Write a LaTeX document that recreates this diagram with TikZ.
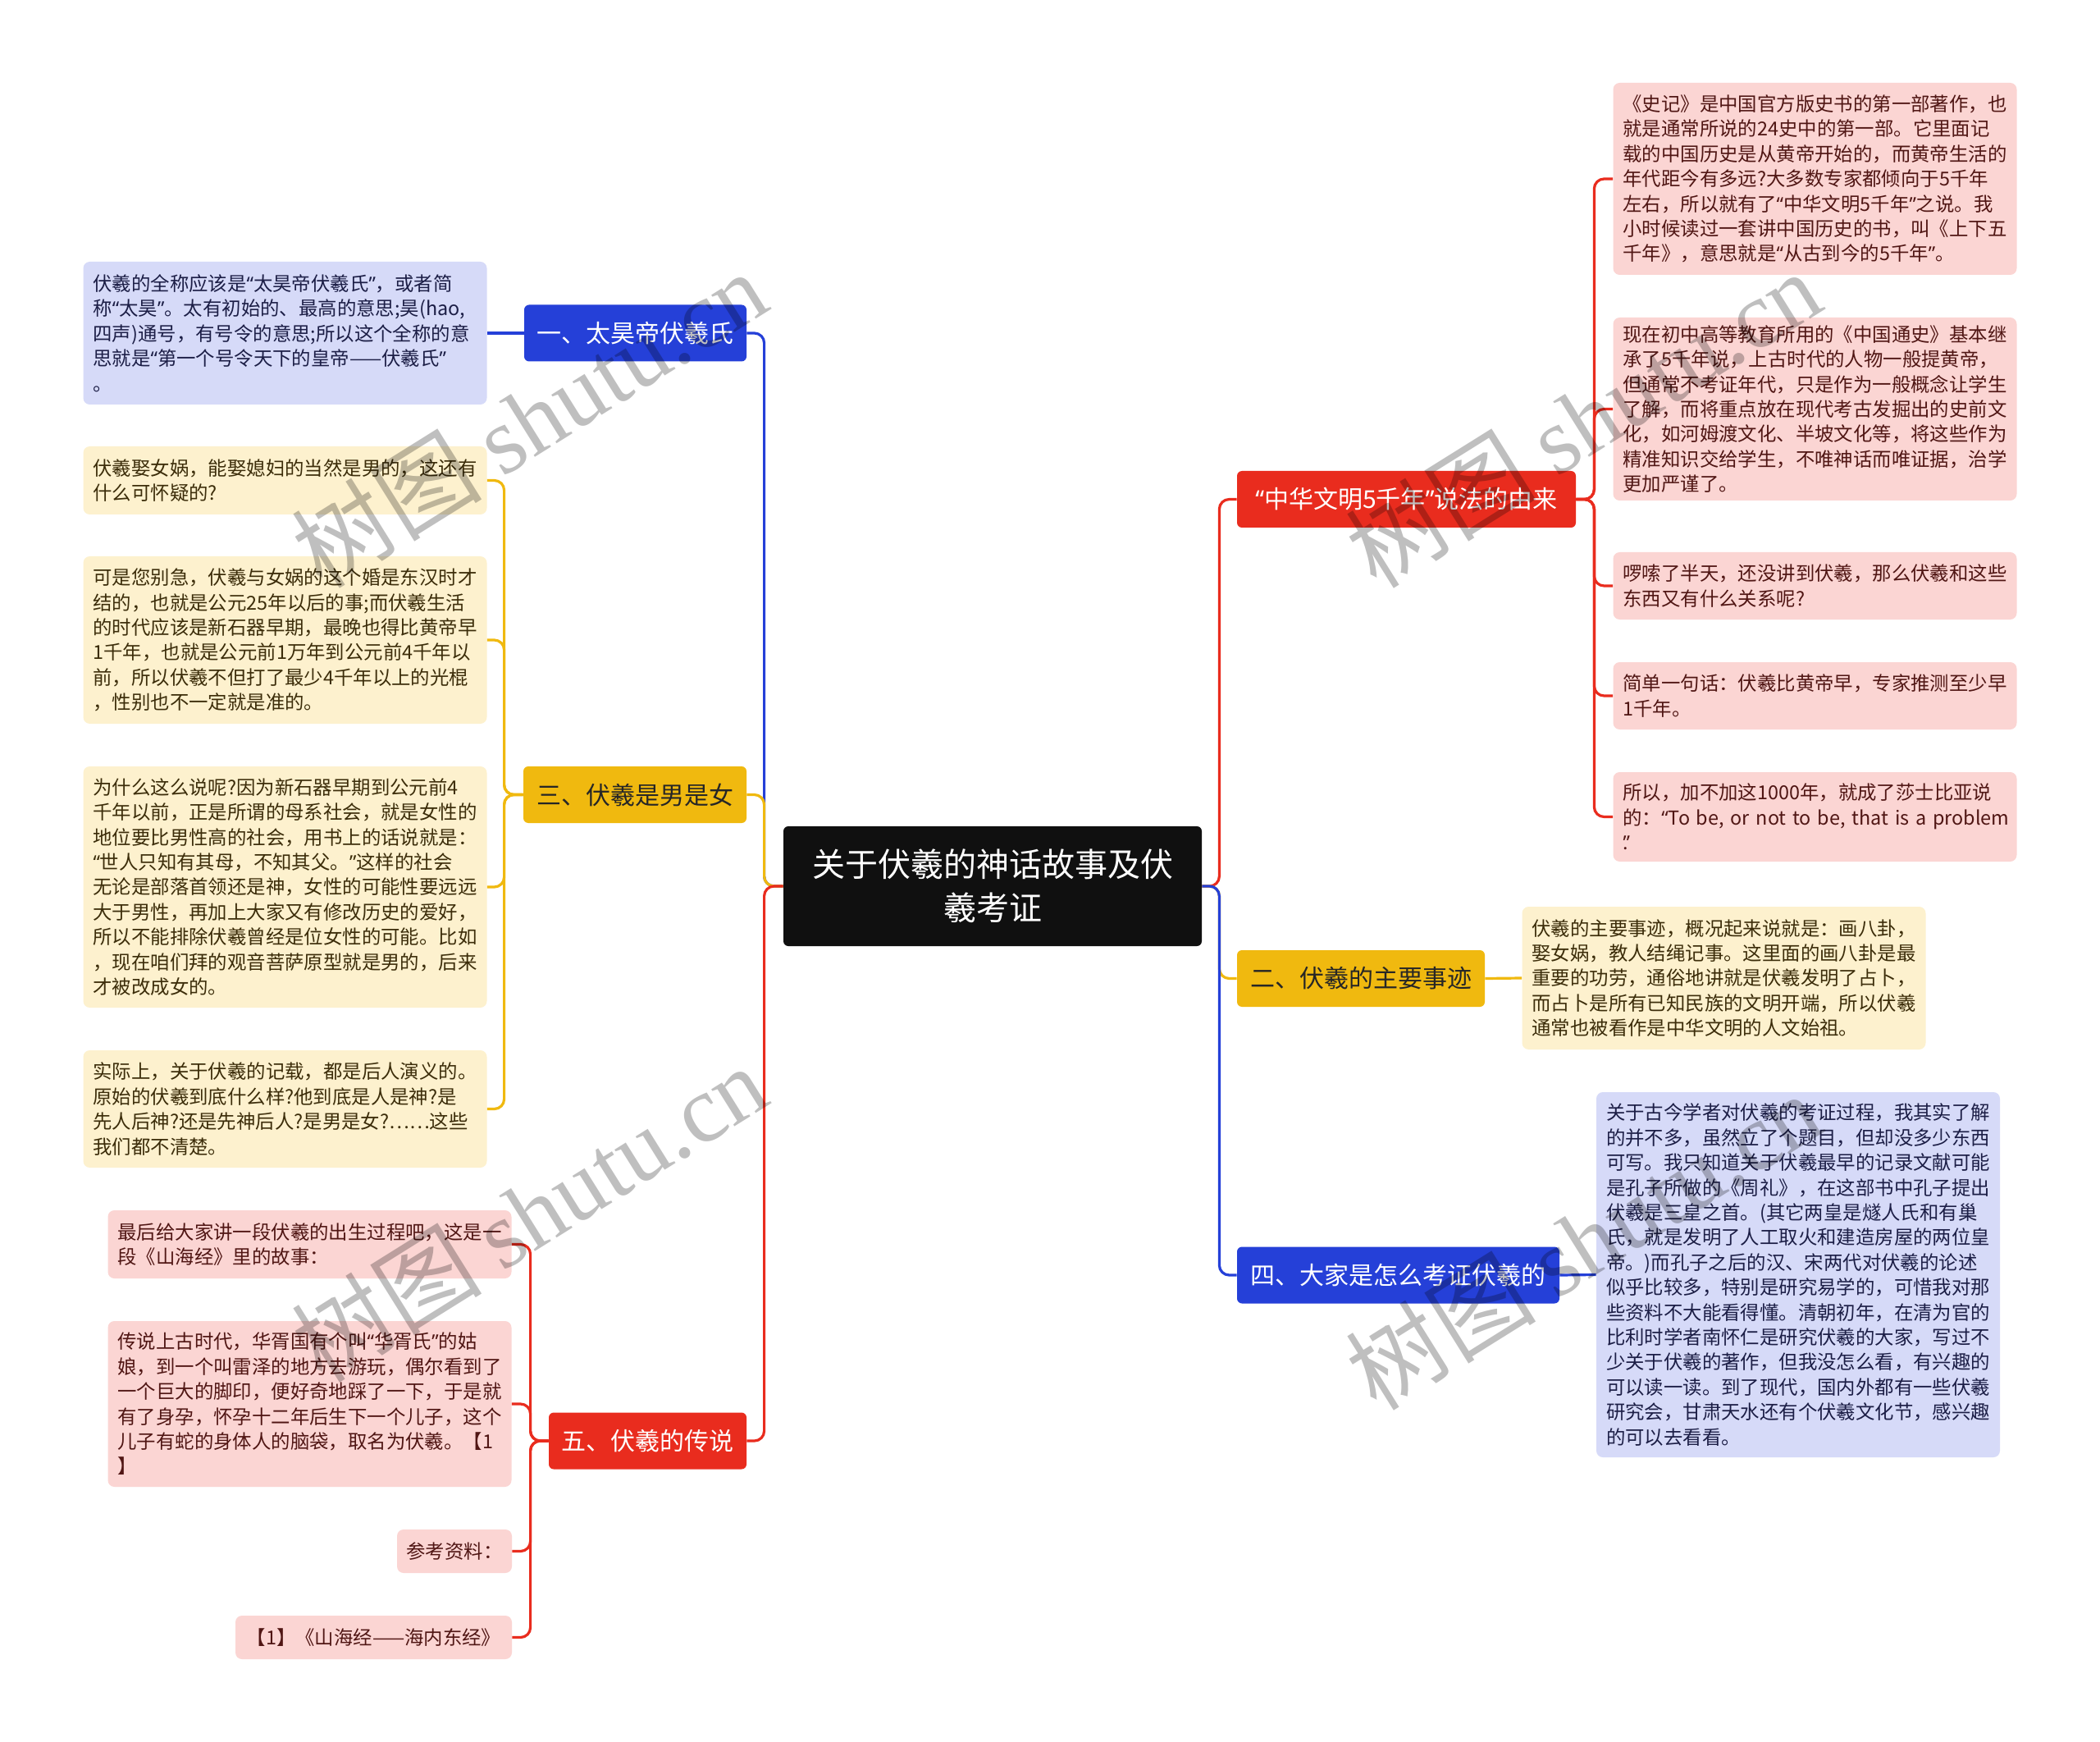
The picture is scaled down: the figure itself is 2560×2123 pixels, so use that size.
\documentclass[tikz,border=0pt]{standalone}
\usepackage{fontspec}
\setmainfont{Noto Sans CJK SC}
\newfontfamily\wmserif{Liberation Serif}
\newfontfamily\latinq{Noto Sans}
\newcommand\oqt{{\latinq “}}
\newcommand\cqt{{\latinq ”}}
\definecolor{cblue}{RGB}{37,64,216}
\definecolor{cred}{RGB}{233,44,30}
\definecolor{cyellow}{RGB}{240,185,15}
\definecolor{lavfill}{RGB}{214,218,248}
\definecolor{yelfill}{RGB}{253,241,206}
\definecolor{pinkfill}{RGB}{251,213,211}
\definecolor{lavtext}{RGB}{28,30,70}
\definecolor{yeltext}{RGB}{60,45,10}
\definecolor{pinktext}{RGB}{80,22,20}
\definecolor{coreblack}{RGB}{16,16,16}
\tikzset{
  leaf/.style={rounded corners=4pt, inner xsep=6pt, inner ysep=0pt, text width=234pt, align=left,
    font={\fontsize{11.7pt}{15.2pt}\selectfont}},
  leafshort/.style={rounded corners=4pt, inner sep=0pt, minimum height=26.5pt,
    font={\fontsize{11.7pt}{15.2pt}\selectfont}},
  lavleaf/.style={leaf, fill=lavfill, text=lavtext},
  yelleaf/.style={leaf, fill=yelfill, text=yeltext},
  pinkleaf/.style={leaf, fill=pinkfill, text=pinktext},
  branchbox/.style={rounded corners=3pt, inner sep=0pt, minimum height=34.5pt,
    font={\fontsize{15pt}{18pt}\selectfont}},
  bluebranch/.style={branchbox, fill=cblue, text=white},
  redbranch/.style={branchbox, fill=cred, text=white},
  yelbranch/.style={branchbox, fill=cyellow, text=black!85},
  link/.style={line width=1.6pt, rounded corners=6pt},
  watermark/.style={text=black, opacity=0.25, rotate=32, font={\fontsize{58pt}{62pt}\selectfont}}
}
\begin{document}
\begin{tikzpicture}[x=0.5pt,y=-0.5pt]
\useasboundingbox (0,0) rectangle (2560,2123);
\fill[white] (0,0) rectangle (2560,2123);

% central node
\node[fill=coreblack, text=white, rounded corners=3pt, minimum width=255pt, minimum height=73pt,
  text width=240pt, align=center, inner sep=0pt, font={\fontsize{20pt}{26.3pt}\selectfont}]
  (c) at (1210,1080) {关于伏羲的神话故事及伏\\羲考证};

% branches
\node[bluebranch, minimum width=135.5pt] (b1) at (774.5,406) {一、太昊帝伏羲氏};
\node[yelbranch, minimum width=136pt] (b3) at (774,968.5) {三、伏羲是男是女};
\node[redbranch, minimum width=120.5pt] (b5) at (789.5,1756) {五、伏羲的传说};
\node[redbranch, minimum width=206.5pt] (r1) at (1714.5,608.5) {\oqt{}中华文明5千年\cqt{}说法的由来};
\node[yelbranch, minimum width=151pt] (r2) at (1659,1192.5) {二、伏羲的主要事迹};
\node[bluebranch, minimum width=196.5pt] (r4) at (1704.5,1554) {四、大家是怎么考证伏羲的};

% leaves of branch one
\node[lavleaf, minimum height=87pt] (l1) at (347.5,406) {伏羲的全称应该是\oqt{}太昊帝伏羲氏\cqt{}，或者简\\称\oqt{}太昊\cqt{}。太有初始的、最高的意思;昊(hao,\\四声)通号，有号令的意思;所以这个全称的意\\思就是\oqt{}第一个号令天下的皇帝——伏羲氏\cqt{}\\。};

% leaves of branch three
\node[yelleaf, minimum height=41.5pt] (y1) at (347.5,585.5) {伏羲娶女娲，能娶媳妇的当然是男的，这还有\\什么可怀疑的?};
\node[yelleaf, minimum height=102pt] (y2) at (347.5,780) {可是您别急，伏羲与女娲的这个婚是东汉时才\\结的，也就是公元25年以后的事;而伏羲生活\\的时代应该是新石器早期，最晚也得比黄帝早\\1千年，也就是公元前1万年到公元前4千年以\\前，所以伏羲不但打了最少4千年以上的光棍\\，性别也不一定就是准的。};
\node[yelleaf, minimum height=147pt] (y3) at (347.5,1081) {为什么这么说呢?因为新石器早期到公元前4\\千年以前，正是所谓的母系社会，就是女性的\\地位要比男性高的社会，用书上的话说就是：\\\oqt{}世人只知有其母，不知其父。\cqt{}这样的社会\\无论是部落首领还是神，女性的可能性要远远\\大于男性，再加上大家又有修改历史的爱好，\\所以不能排除伏羲曾经是位女性的可能。比如\\，现在咱们拜的观音菩萨原型就是男的，后来\\才被改成女的。};
\node[yelleaf, minimum height=71.5pt] (y4) at (347.5,1351.5) {实际上，关于伏羲的记载，都是后人演义的。\\原始的伏羲到底什么样?他到底是人是神?是\\先人后神?还是先神后人?是男是女?……这些\\我们都不清楚。};

% leaves of branch five
\node[pinkleaf, minimum height=41.5pt] (p1) at (377.5,1516.5) {最后给大家讲一段伏羲的出生过程吧，这是一\\段《山海经》里的故事：};
\node[pinkleaf, minimum height=101pt] (p2) at (377.5,1711) {传说上古时代，华胥国有个叫\oqt{}华胥氏\cqt{}的姑\\娘，到一个叫雷泽的地方去游玩，偶尔看到了\\一个巨大的脚印，便好奇地踩了一下，于是就\\有了身孕，怀孕十二年后生下一个儿子，这个\\儿子有蛇的身体人的脑袋，取名为伏羲。【1\\】};
\node[leafshort, fill=pinkfill, text=pinktext, minimum width=70pt] (p3) at (554,1890.5) {参考资料：};
\node[leafshort, fill=pinkfill, text=pinktext, minimum width=168.5pt] (p4) at (455.5,1995.5) {【1】《山海经——海内东经》};

% leaves of the red right branch
\node[pinkleaf, minimum height=117pt] (q1) at (2212.5,218) {《史记》是中国官方版史书的第一部著作，也\\就是通常所说的24史中的第一部。它里面记\\载的中国历史是从黄帝开始的，而黄帝生活的\\年代距今有多远?大多数专家都倾向于5千年\\左右，所以就有了\oqt{}中华文明5千年\cqt{}之说。我\\小时候读过一套讲中国历史的书，叫《上下五\\千年》，意思就是\oqt{}从古到今的5千年\cqt{}。};
\node[pinkleaf, minimum height=111.5pt] (q2) at (2212.5,498.5) {现在初中高等教育所用的《中国通史》基本继\\承了5千年说，上古时代的人物一般提黄帝，\\但通常不考证年代，只是作为一般概念让学生\\了解，而将重点放在现代考古发掘出的史前文\\化，如河姆渡文化、半坡文化等，将这些作为\\精准知识交给学生，不唯神话而唯证据，治学\\更加严谨了。};
\node[pinkleaf, minimum height=41pt] (q3) at (2212.5,714) {啰嗦了半天，还没讲到伏羲，那么伏羲和这些\\东西又有什么关系呢?};
\node[pinkleaf, minimum height=41pt] (q4) at (2212.5,848) {简单一句话：伏羲比黄帝早，专家推测至少早\\1千年。};
\node[pinkleaf, minimum height=54.5pt] (q5) at (2212.5,995.5) {所以，加不加这1000年，就成了莎士比亚说\\\mbox{的：\oqt{}To be, or not to be, that is a problem}\\\makebox[0pt][l]{\cqt{}}.};

% leaf of branch two
\node[yelleaf, minimum height=87pt] (g1) at (2101.5,1192) {伏羲的主要事迹，概况起来说就是：画八卦，\\娶女娲，教人结绳记事。这里面的画八卦是最\\重要的功劳，通俗地讲就是伏羲发明了占卜，\\而占卜是所有已知民族的文明开端，所以伏羲\\通常也被看作是中华文明的人文始祖。};

% leaf of branch four
\node[lavleaf, minimum height=222.5pt] (k1) at (2192,1553.5) {关于古今学者对伏羲的考证过程，我其实了解\\的并不多，虽然立了个题目，但却没多少东西\\可写。我只知道关于伏羲最早的记录文献可能\\是孔子所做的《周礼》，在这部书中孔子提出\\伏羲是三皇之首。(其它两皇是燧人氏和有巢\\氏，就是发明了人工取火和建造房屋的两位皇\\帝。)而孔子之后的汉、宋两代对伏羲的论述\\似乎比较多，特别是研究易学的，可惜我对那\\些资料不大能看得懂。清朝初年，在清为官的\\比利时学者南怀仁是研究伏羲的大家，写过不\\少关于伏羲的著作，但我没怎么看，有兴趣的\\可以读一读。到了现代，国内外都有一些伏羲\\研究会，甘肃天水还有个伏羲文化节，感兴趣\\的可以去看看。};

% connectors: centre to branches
\draw[link, cblue] (c.west) -- ++(-23,0) |- (b1.east);
\draw[link, cyellow] (c.west) -- ++(-23,0) |- (b3.east);
\draw[link, cred] (c.west) -- ++(-23,0) |- (b5.east);
\draw[link, cred] (c.east) -- ++(21,0) |- (r1.west);
\draw[link, cyellow] (c.east) -- ++(21,0) |- (r2.west);
\draw[link, cblue] (c.east) -- ++(21,0) |- (r4.west);

% connectors: branches to leaves
\draw[link, cblue] (b1.west) -- (l1.east);
\foreach \t in {y1,y2,y3,y4} \draw[link, cyellow] (b3.west) -- ++(-23,0) |- (\t.east);
\foreach \t in {p1,p2,p3,p4} \draw[link, cred] (b5.west) -- ++(-22,0) |- (\t.east);
\foreach \t in {q1,q2,q3,q4,q5} \draw[link, cred] (r1.east) -- ++(22,0) |- (\t.west);
\draw[link, cyellow] (r2.east) -- (g1.west);
\draw[link, cblue] (r4.east) -- (k1.west);

% watermarks
\node[watermark] (w1) at (645,510) {树图 {\wmserif shutu.cn}};
\node[watermark] (w2) at (645,1478) {树图 {\wmserif shutu.cn}};
\node[watermark] (w3) at (1930,510) {树图 {\wmserif shutu.cn}};
\node[watermark] (w4) at (1930,1512) {树图 {\wmserif shutu.cn}};
\end{tikzpicture}
\end{document}
